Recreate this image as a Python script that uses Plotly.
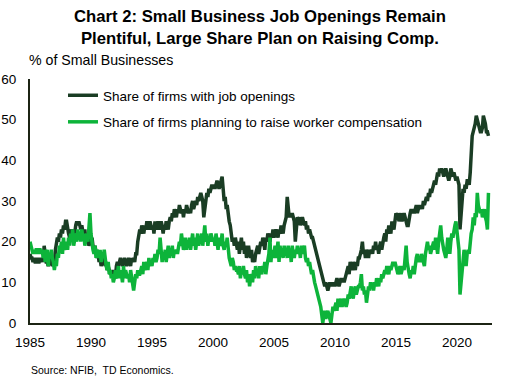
import pandas as pd
import plotly.graph_objects as go

start_month = "1985-01-01"

# Share of firms with job openings (%), monthly from Jan 1985
job_openings = [
    17, 16, 16, 15, 16, 15, 15, 16, 15, 15, 16, 15,   # 1985
    16, 15, 19, 17, 15, 15, 14, 15, 16, 15, 14, 15,   # 1986
    15, 18, 20, 21, 20, 22, 21, 23, 22, 24, 23, 25,   # 1987
    25, 23, 22, 21, 23, 22, 21, 23, 22, 24, 25, 24,   # 1988
    25, 24, 23, 24, 22, 21, 23, 20, 22, 21, 19, 20,   # 1989
    20, 21, 19, 18, 19, 17, 16, 17, 15, 16, 14, 15,   # 1990
    15, 16, 14, 15, 13, 14, 13, 12, 13, 12, 13, 12,   # 1991
    11, 14, 15, 14, 15, 16, 15, 14, 15, 16, 15, 14,   # 1992
    15, 16, 15, 14, 16, 15, 16, 15, 17, 17, 20, 22,   # 1993
    23, 22, 24, 23, 22, 24, 23, 25, 24, 23, 25, 24,   # 1994
    23, 24, 22, 25, 24, 23, 25, 24, 23, 25, 24, 22,   # 1995
    24, 23, 25, 24, 23, 25, 26, 25, 27, 26, 28, 27,   # 1996
    26, 28, 27, 29, 28, 27, 28, 26, 28, 27, 29, 28,   # 1997
    27, 28, 27, 29, 30, 28, 29, 30, 29, 31, 30, 31,   # 1998
    32, 31, 30, 26, 29, 30, 32, 31, 33, 32, 33, 34,   # 1999
    33, 34, 33, 34, 35, 34, 33, 34, 35, 36, 33, 30,   # 2000
    31, 28, 29, 26, 25, 24, 22, 20, 21, 19, 21, 19,   # 2001
    18, 20, 17, 19, 21, 18, 20, 17, 19, 16, 18, 19,   # 2002
    17, 16, 18, 15, 16, 15, 17, 18, 19, 17, 19, 20,   # 2003
    19, 21, 20, 18, 21, 20, 22, 21, 20, 22, 21, 23,   # 2004
    21, 22, 23, 22, 21, 23, 22, 24, 23, 22, 24, 25,   # 2005
    26, 31, 27, 26, 27, 26, 27, 26, 25, 20, 25, 26,   # 2006
    25, 26, 24, 25, 26, 25, 24, 25, 23, 24, 22, 23,   # 2007
    22, 21, 21, 20, 19, 18, 17, 16, 15, 14, 13, 12,   # 2008
    11, 10, 9, 10, 9, 8, 9, 10, 9, 10, 9, 10,         # 2009
    9, 10, 11, 10, 9, 10, 11, 10, 11, 10, 11, 12,     # 2010
    13, 14, 12, 15, 14, 13, 15, 14, 13, 15, 14, 16,   # 2011
    16, 17, 18, 20, 17, 18, 16, 18, 17, 16, 18, 17,   # 2012
    18, 17, 19, 18, 20, 18, 19, 17, 19, 20, 18, 20,   # 2013
    21, 22, 20, 23, 22, 24, 23, 22, 25, 24, 23, 25,   # 2014
    27, 26, 27, 25, 26, 27, 25, 26, 27, 26, 25, 24,   # 2015
    24, 26, 27, 28, 27, 28, 27, 28, 29, 27, 28, 29,   # 2016
    28, 29, 28, 30, 29, 30, 31, 30, 32, 31, 33, 32,   # 2017
    33, 34, 35, 34, 36, 37, 36, 38, 37, 38, 37, 36,   # 2018
    37, 38, 37, 36, 35, 36, 38, 37, 36, 37, 36, 35,   # 2019
    36, 35, 34, 23, 27, 32, 33, 32, 34, 33, 35, 35,   # 2020
    34, 37, 44, 46, 47, 48, 49, 51, 50, 49, 48, 47,   # 2021
    47, 48, 51, 50, 49, 47, 47, 46,                   # 2022
]

# Share of firms planning to raise worker compensation (%), monthly from Jan 1985
comp_plans = [
    20, 19, 18, 17, 18, 17, 18, 18, 17, 18, 18, 17,   # 1985
    18, 16, 18, 15, 17, 18, 14, 17, 16, 18, 16, 15,   # 1986
    13, 15, 14, 17, 16, 19, 18, 20, 17, 21, 18, 19,   # 1987
    20, 18, 21, 19, 22, 20, 23, 19, 21, 22, 20, 23,   # 1988
    21, 22, 20, 23, 21, 22, 19, 21, 22, 20, 23, 27,   # 1989
    22, 19, 18, 17, 19, 16, 18, 17, 16, 18, 15, 17,   # 1990
    16, 18, 15, 14, 13, 15, 12, 13, 11, 12, 10, 11,   # 1991
    13, 11, 12, 14, 11, 13, 12, 10, 14, 11, 13, 12,   # 1992
    11, 12, 10, 13, 11, 9, 8, 10, 12, 11, 13, 12,     # 1993
    12, 13, 14, 12, 15, 13, 14, 15, 13, 16, 14, 15,   # 1994
    14, 16, 15, 17, 15, 16, 18, 17, 21, 16, 15, 17,   # 1995
    16, 18, 15, 17, 19, 16, 18, 17, 19, 16, 18, 17,   # 1996
    18, 17, 19, 20, 19, 22, 20, 18, 19, 21, 18, 20,   # 1997
    19, 21, 18, 20, 22, 19, 21, 18, 20, 22, 19, 21,   # 1998
    20, 22, 19, 21, 24, 20, 22, 19, 21, 20, 22, 21,   # 1999
    20, 21, 19, 22, 20, 18, 21, 19, 20, 22, 19, 18,   # 2000
    20, 19, 21, 18, 16, 15, 14, 16, 15, 13, 14, 13,   # 2001
    13, 12, 14, 11, 13, 12, 14, 12, 11, 13, 10, 12,   # 2002
    9, 11, 12, 10, 13, 11, 14, 12, 13, 11, 14, 13,    # 2003
    12, 14, 13, 15, 12, 14, 16, 17, 21, 15, 18, 16,   # 2004
    17, 19, 16, 18, 20, 15, 19, 17, 18, 16, 19, 17,   # 2005
    18, 16, 19, 17, 18, 15, 19, 17, 16, 18, 17, 19,   # 2006
    17, 18, 16, 19, 17, 18, 19, 16, 15, 16, 14, 15,   # 2007
    13, 12, 13, 11, 10, 9, 8, 7, 6, 5, 4, 2,          # 2008
    0, 2, 3, 1, 2, 3, 2, 1, 0, 2, 4, 3,               # 2009
    4, 5, 3, 6, 4, 5, 6, 4, 5, 6, 5, 4,               # 2010
    5, 7, 6, 8, 9, 7, 6, 8, 9, 7, 8, 9,               # 2011
    9, 10, 12, 8, 9, 7, 8, 5, 7, 9, 8, 10,            # 2012
    9, 10, 8, 10, 9, 11, 10, 9, 11, 10, 12, 11,       # 2013
    12, 13, 12, 14, 13, 12, 14, 13, 14, 15, 14, 15,   # 2014
    14, 13, 12, 13, 14, 12, 13, 14, 13, 16, 19, 15,   # 2015
    13, 12, 11, 13, 12, 14, 12, 15, 16, 17, 15, 16,   # 2016
    15, 17, 16, 15, 14, 17, 19, 20, 18, 19, 17, 18,   # 2017
    19, 20, 18, 21, 19, 17, 20, 22, 24, 21, 19, 18,   # 2018
    17, 16, 18, 21, 19, 17, 20, 22, 21, 23, 24, 25,   # 2019
    22, 21, 18, 7, 10, 13, 16, 18, 16, 14, 17, 18,    # 2020
    17, 21, 22, 23, 26, 24, 27, 26, 32, 29, 28, 27,   # 2021
    28, 26, 27, 28, 26, 25, 23, 32,                   # 2022
]

series_names = [
    "Share of firms with job openings",
    "Share of firms planning to raise worker compensation",
]
series_colors = ["#1a3d24", "#0db43a"]

title_text = "Chart 2: Small Business Job Openings Remain<br>Plentiful, Large Share Plan on Raising Comp."
y_title = "% of Small Businesses"
source_text = "Source: NFIB,  TD Economics."

dates = pd.date_range(start_month, periods=len(job_openings), freq="MS")

FONT = "Liberation Sans, Arial, sans-serif"

fig = go.Figure()
for name, vals, col, grp in zip(series_names, [job_openings, comp_plans], series_colors, ["a", "b"]):
    fig.add_trace(go.Scatter(
        x=dates, y=vals, mode="lines", name=name, legendgroup=grp,
        line=dict(color=col, width=3.5),
    ))

W, H = 515, 384
ml, mr, mt, mb = 30, 23, 79, 60.5
pw = W - ml - mr
ph = H - mt - mb

fig.update_layout(
    width=W, height=H,
    margin=dict(l=ml, r=mr, t=mt, b=mb, autoexpand=False),
    paper_bgcolor="white", plot_bgcolor="white",
    font=dict(family=FONT, color="#000000", size=13.5),
    showlegend=True,
    legend=dict(
        x=(63 - ml) / pw, y=1 - (80 - mt) / ph,
        xanchor="left", yanchor="top",
        bgcolor="rgba(0,0,0,0)",
        font=dict(family=FONT, size=13.5, color="#000000"),
        tracegroupgap=6,
        traceorder="grouped",
    ),
    xaxis=dict(
        type="date", automargin=False,
        range=["1985-01-01", "2022-11-15"],
        tick0="1985-01-01", dtick="M60", tickformat="%Y",
        showgrid=False, zeroline=False,
        showline=True, linecolor="#1c2414", linewidth=2,
        ticks="", ticklabelstandoff=6,
        tickfont=dict(family=FONT, size=13.5, color="#000000"),
    ),
    yaxis=dict(
        automargin=False,
        range=[0, 60], dtick=10, tick0=0,
        showgrid=False, zeroline=False,
        showline=True, linecolor="#1c2414", linewidth=2,
        ticks="", ticklabelstandoff=9,
        tickfont=dict(family=FONT, size=13.5, color="#000000"),
    ),
    annotations=[
        dict(text="<b>" + title_text + "</b>", xref="paper", yref="paper",
             x=(259.5 - ml) / pw, y=1 + (mt - 27) / ph,
             xanchor="center", yanchor="middle", showarrow=False,
             font=dict(family=FONT, size=16.7, color="#000000")),
        dict(text=y_title, xref="paper", yref="paper",
             x=(27 - ml) / pw, y=1 + (mt - 60) / ph,
             xanchor="left", yanchor="middle", showarrow=False,
             font=dict(family=FONT, size=14.2, color="#000000")),
        dict(text=source_text, xref="paper", yref="paper",
             x=(29 - ml) / pw, y=-(371 - (mt + ph)) / ph,
             xanchor="left", yanchor="middle", showarrow=False,
             font=dict(family=FONT, size=10.5, color="#000000")),
    ],
)

fig.write_html("out.html")
